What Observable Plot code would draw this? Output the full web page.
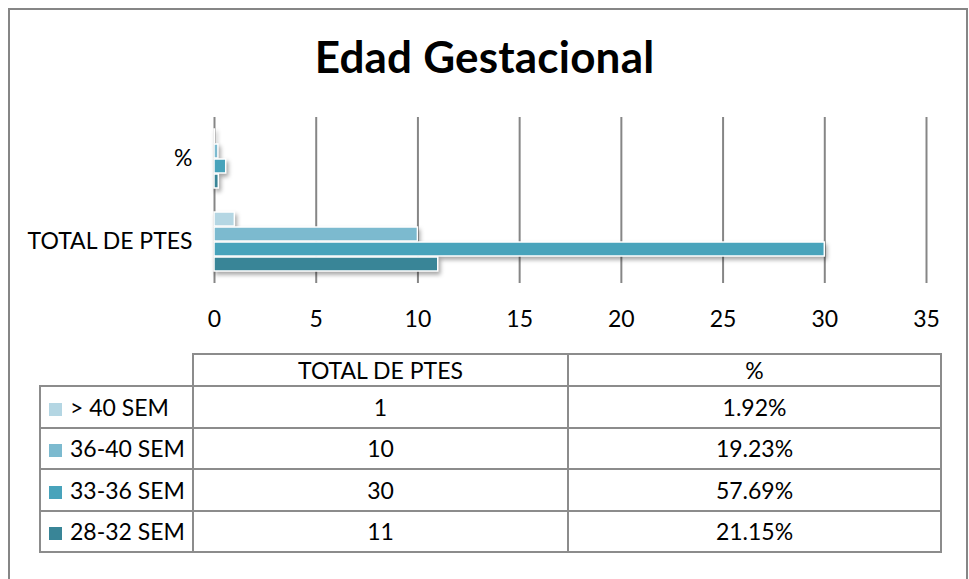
<!DOCTYPE html>
<html>
<head>
<meta charset="utf-8">
<script src="https://cdn.jsdelivr.net/npm/d3@7"></script>
<script src="https://cdn.jsdelivr.net/npm/@observablehq/plot@0.6"></script>
<style>
  html, body { margin: 0; padding: 0; background: #fff; }
  #wrap { position: relative; width: 969px; height: 579px; overflow: hidden; background: #fff; font-family: Lato, "Open Sans", sans-serif; }
  #frame { position: absolute; left: 8px; top: 8px; width: 960px; height: 600px; border: 2px solid #868686; box-sizing: border-box; }
  #title { position: absolute; left: 0; width: 969px; top: 34px; text-align: center; font-size: 44px; line-height: 44px; font-weight: 700; color: #000; letter-spacing: 0.2px; }
  #chart { position: absolute; left: 0; top: 0; }
  g[aria-label="bar"] rect { filter: drop-shadow(2px 3px 2px rgba(0,0,0,0.35)); }
  #tbl { position: absolute; left: 39px; top: 353px; border-collapse: collapse; font-size: 23px; color: #000; table-layout: fixed; }
  #tbl td { border: 2px solid #8c8c8c; text-align: center; padding: 0; height: 39.5px; }
  #tbl tr.head td { height: 30px; }
  #tbl td.leg { text-align: left; padding-left: 8px; white-space: nowrap; }
  #tbl td.empty { border: none; }
  .sw { display: inline-block; width: 13px; height: 13px; margin-right: 8px; vertical-align: 0px; }
</style>
</head>
<body>
<div id="wrap">
  <div id="frame"></div>
  <div id="title">Edad Gestacional</div>
  <div id="chart"></div>
  <table id="tbl"></table>
</div>
<script>
const categories = ["%", "TOTAL DE PTES"];
const series = ["> 40 SEM", "36-40 SEM", "33-36 SEM", "28-32 SEM"];
const totals = [1, 10, 30, 11];
const percents = [1.92, 19.23, 57.69, 21.15];
const colors = ["#b4d6e3", "#7cbacf", "#48a3bb", "#398597"];
const xTicks = [0, 5, 10, 15, 20, 25, 30, 35];

const rows = [];
series.forEach((s, i) => {
  rows.push({cat: "%", series: s, value: percents[i] / 100});
  rows.push({cat: "TOTAL DE PTES", series: s, value: totals[i]});
});

const chart = Plot.plot({
  width: 969,
  height: 340,
  marginTop: 117,
  marginBottom: 57,
  marginLeft: 214,
  marginRight: 43,
  style: {fontFamily: "Lato, 'Open Sans', sans-serif", fontSize: "23px", color: "#000", background: "transparent"},
  x: {domain: [0, 35], ticks: xTicks, label: null},
  y: {domain: series, axis: null, paddingInner: 0.06, paddingOuter: 0.77},
  fy: {domain: categories, padding: 0, label: null},
  color: {domain: series, range: colors},
  marks: [
    Plot.gridX(xTicks, {stroke: "#868686", strokeOpacity: 1, strokeWidth: 2}),
    Plot.axisX({ticks: xTicks, tickSize: 0, tickPadding: 27, line: true, stroke: "#868686", strokeWidth: 2, fill: "#000", label: null}),
    Plot.axisFy({anchor: "left", tickSize: 0, tickPadding: 22, fill: "#000", label: null}),
    Plot.barX(rows, {x: "value", y: "series", fy: "cat", fill: "series", stroke: "white", strokeWidth: 1.5})
  ]
});
document.getElementById("chart").appendChild(chart);

const tbl = document.getElementById("tbl");
const cg = document.createElement("colgroup");
[153, 375, 373].forEach(w => { const c = document.createElement("col"); c.style.width = w + "px"; cg.appendChild(c); });
tbl.appendChild(cg);
const head = document.createElement("tr");
head.className = "head";
["", "TOTAL DE PTES", "%"].forEach((t, i) => {
  const td = document.createElement("td");
  td.textContent = t;
  if (i === 0) td.className = "empty";
  head.appendChild(td);
});
tbl.appendChild(head);
series.forEach((s, i) => {
  const tr = document.createElement("tr");
  const l = document.createElement("td");
  l.className = "leg";
  const sw = document.createElement("span");
  sw.className = "sw";
  sw.style.background = colors[i];
  l.appendChild(sw);
  l.appendChild(document.createTextNode(s));
  tr.appendChild(l);
  const a = document.createElement("td");
  a.textContent = String(totals[i]);
  tr.appendChild(a);
  const b = document.createElement("td");
  b.textContent = percents[i].toFixed(2) + "%";
  tr.appendChild(b);
  tbl.appendChild(tr);
});
</script>
</body>
</html>
